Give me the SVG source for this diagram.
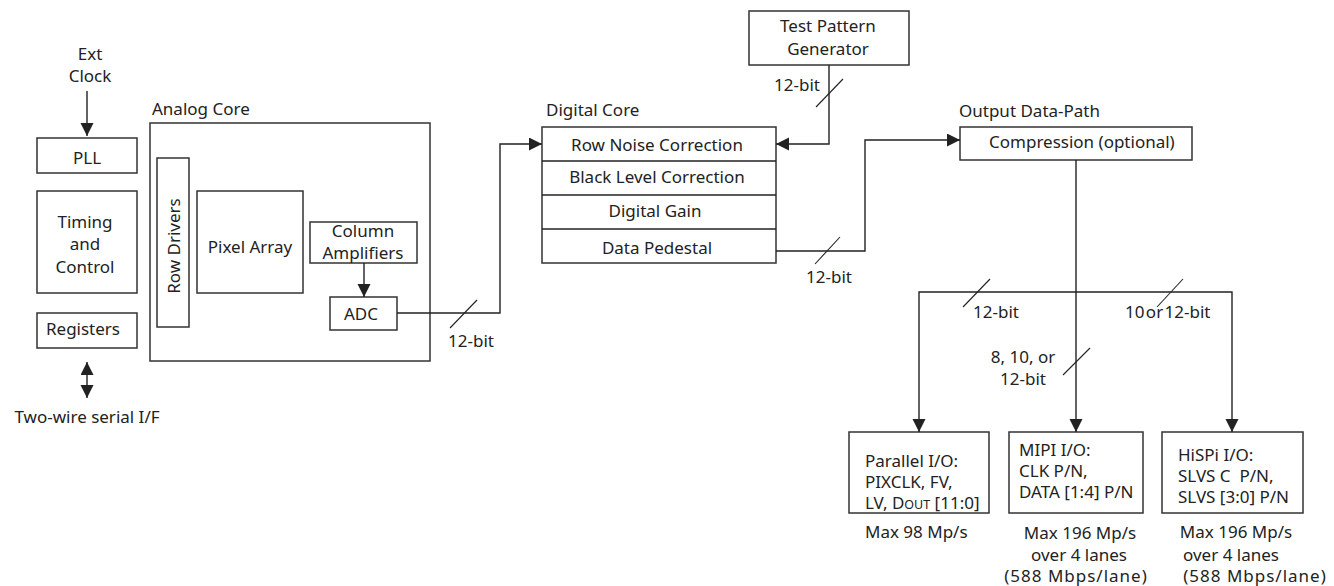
<svg xmlns="http://www.w3.org/2000/svg" width="1334" height="586" viewBox="0 0 1334 586">
<style>
text{font-family:"Noto Sans","Open Sans","Liberation Sans",sans-serif;font-size:17px;fill:#222}
.c{text-anchor:middle}
.box{fill:#fff;stroke:#333;stroke-width:1.5}
.ln{fill:none;stroke:#222;stroke-width:1.4}
.sl{fill:none;stroke:#222;stroke-width:1.1}
.wide{letter-spacing:1px}
</style>
<defs>
<marker id="arr" markerUnits="userSpaceOnUse" markerWidth="14" markerHeight="14" refX="13" refY="6.5" orient="auto-start-reverse" viewBox="0 0 14 14">
<path d="M0,0 L13,6.5 L0,13 z" fill="#222"/>
</marker>
</defs>
<rect width="1334" height="586" fill="#fff"/>

<g id="ext-clock"><text class="c" x="90" y="60">Ext</text><text class="c" x="90" y="82">Clock</text></g>
<g id="pll"><rect class="box" x="37" y="138" width="100" height="35"/><text class="c" x="87" y="164">PLL</text></g>
<g id="timing"><rect class="box" x="37" y="191" width="100" height="102"/><text class="c" x="85" y="228">Timing</text><text class="c" x="85" y="250">and</text><text class="c" x="85" y="273">Control</text></g>
<g id="registers"><rect class="box" x="37" y="313" width="100" height="35"/><text class="c" x="83" y="335">Registers</text></g>
<g id="serial-if"><text class="c" x="87" y="423">Two-wire serial I/F</text></g>

<g id="analog-core"><text x="152" y="115">Analog Core</text><rect class="box" x="150" y="123" width="280" height="238"/></g>
<g id="row-drivers"><rect class="box" x="157" y="158" width="32" height="169"/><text class="c" transform="translate(180,246) rotate(-90)">Row Drivers</text></g>
<g id="pixel-array"><rect class="box" x="197" y="191" width="106" height="102"/><text class="c" x="250" y="253">Pixel Array</text></g>
<g id="column-amplifiers"><rect class="box" x="310" y="222" width="107" height="41"/><text class="c" x="363" y="237">Column</text><text class="c" x="363" y="259">Amplifiers</text></g>
<g id="adc"><rect class="box" x="330" y="297" width="67" height="33"/><text class="c" x="361" y="320">ADC</text></g>

<g id="digital-core"><text x="546" y="116">Digital Core</text>
<rect class="box" x="542" y="127" width="234" height="136"/>
<line class="ln" x1="542" y1="161" x2="776" y2="161"/><line class="ln" x1="542" y1="195" x2="776" y2="195"/><line class="ln" x1="542" y1="229" x2="776" y2="229"/>
<text class="c" x="657" y="151">Row Noise Correction</text>
<text class="c" x="657" y="183">Black Level Correction</text>
<text class="c" x="655" y="217">Digital Gain</text>
<text class="c" x="657" y="254">Data Pedestal</text></g>

<g id="test-pattern-generator"><rect class="box" x="749" y="11" width="160" height="54"/><text class="c" x="828" y="32">Test Pattern</text><text class="c" x="828" y="55">Generator</text></g>

<g id="output-data-path"><text x="959" y="117">Output Data-Path</text><rect class="box" x="960" y="127" width="232" height="33"/><text x="989" y="148">Compression (optional)</text></g>

<g id="parallel-io"><rect class="box" x="849" y="432" width="140" height="81"/>
<text x="865" y="467">Parallel I/O:</text><text x="865" y="488">PIXCLK, FV,</text><text x="865" y="509">LV, D<tspan font-size="12.5">OUT</tspan> [11:0]</text>
<text x="865" y="538">Max 98 Mp/s</text></g>
<g id="mipi-io"><rect class="box" x="1009" y="432" width="134" height="81"/>
<text x="1019" y="456">MIPI I/O:</text><text x="1019" y="477">CLK P/N,</text><text x="1019" y="498">DATA [1:4] P/N</text>
<text class="c" x="1080" y="539">Max 196 Mp/s</text><text class="c" x="1079" y="561">over 4 lanes</text><text class="c wide" x="1076" y="582">(588 Mbps/lane)</text></g>
<g id="hispi-io"><rect class="box" x="1162" y="432" width="141" height="81"/>
<text x="1178" y="461">HiSPi I/O:</text><text x="1178" y="482" style="white-space:pre">SLVS C  P/N,</text><text x="1178" y="503">SLVS [3:0] P/N</text>
<text class="c" x="1236" y="538">Max 196 Mp/s</text><text class="c" x="1231" y="561">over 4 lanes</text><text class="c wide" x="1255" y="582">(588 Mbps/lane)</text></g>

<g id="connectors">
<path class="ln" d="M87,91 V136" marker-end="url(#arr)"/>
<path class="ln" d="M87,362 V398" marker-start="url(#arr)" marker-end="url(#arr)"/>
<path class="ln" d="M364,263 V297" marker-end="url(#arr)"/>
<path class="ln" d="M397,313 H500 V144 H542" marker-end="url(#arr)"/>
<path class="ln" d="M829,65 V144 H776" marker-end="url(#arr)"/>
<path class="ln" d="M776,251 H865 V140 H960" marker-end="url(#arr)"/>
<path class="ln" d="M1076,160 V432" marker-end="url(#arr)"/>
<path class="ln" d="M919,432 V292 H1232 V432" marker-start="url(#arr)" marker-end="url(#arr)"/>
<line class="sl" x1="450" y1="328" x2="477" y2="300"/>
<line class="sl" x1="816" y1="107" x2="843" y2="79"/>
<line class="sl" x1="815" y1="264" x2="840" y2="237"/>
<line class="sl" x1="963" y1="307" x2="990" y2="279"/>
<line class="sl" x1="1157" y1="307" x2="1183" y2="279"/>
<line class="sl" x1="1063" y1="375" x2="1090" y2="348"/>
<text class="c" x="471" y="347">12-bit</text>
<text x="820" y="91" text-anchor="end">12-bit</text>
<text class="c" x="829" y="283">12-bit</text>
<text x="973" y="318">12-bit</text>
<text x="1125" y="318" word-spacing="-3">10 or 12-bit</text>
<text class="c" x="1023" y="363">8, 10, or</text>
<text class="c" x="1023" y="385">12-bit</text>
</g>
</svg>
